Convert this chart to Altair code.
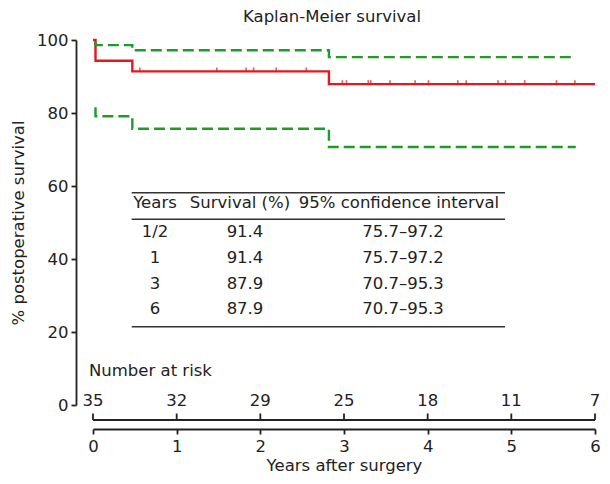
import altair as alt
import pandas as pd

# ---------------- data ----------------
km_times = [0.0, 0.03, 0.47, 2.82, 6.0]
km_surv = [100.0, 94.3, 91.4, 87.9, 87.9]

ci_times = [0.03, 0.03, 0.47, 2.82, 5.77]
ci_upper = [99.6, 98.6, 97.2, 95.3, 95.3]
ci_lower = [81.6, 79.1, 75.7, 70.7, 70.7]

censor_times = [0.56, 1.48, 1.83, 1.92, 2.19, 2.55, 2.98, 3.03, 3.29, 3.32,
                3.55, 3.85, 4.01, 4.36, 4.46, 4.84, 4.93, 5.16, 5.54, 5.76]

risk_years = [0, 1, 2, 3, 4, 5, 6]
risk_counts = [35, 32, 29, 25, 18, 11, 7]

table_headers = ["Years", "Survival (%)", "95% confidence interval"]
table_years = ["1/2", "1", "3", "6"]
table_surv = ["91.4", "91.4", "87.9", "87.9"]
table_ci = ["75.7\u201397.2", "75.7\u201397.2", "70.7\u201395.3", "70.7\u201395.3"]

# ---------------- styling ----------------
FONT = "DejaVu Sans"
FS = 16.5
RED = "#e8161e"
GREEN = "#1a9e28"
INK = "#222222"


def surv_at(t):
    s = km_surv[0]
    for tt, ss in zip(km_times, km_surv):
        if tt <= t:
            s = ss
    return s


km_df = pd.DataFrame({"t": km_times, "s": km_surv})
ci_df = pd.DataFrame({
    "t": ci_times + ci_times,
    "s": ci_upper + ci_lower,
    "band": ["upper"] * len(ci_times) + ["lower"] * len(ci_times),
})
cens_df = pd.DataFrame({"t": censor_times, "s": [surv_at(t) for t in censor_times]})
risk_df = pd.DataFrame({"t": risk_years, "n": risk_counts})
table_df = pd.DataFrame({"years": table_years, "surv": table_surv, "ci": table_ci,
                         "row": list(range(len(table_years)))})
one = pd.DataFrame({"t": [0]})

x_scale = alt.Scale(domain=[0, 6], nice=False, zero=False)
y_scale = alt.Scale(domain=[0, 100], nice=False)

x_axis = alt.Axis(values=risk_years, format="d", title="Years after surgery",
                  offset=24, tickSize=5, labelPadding=4, titlePadding=3, labelFlush=False)
y_axis = alt.Axis(values=[0, 20, 40, 60, 80, 100], format="d", title="% postoperative survival",
                  offset=17, tickSize=5, labelPadding=3, titlePadding=10)

X = alt.X("t:Q", scale=x_scale, axis=x_axis)
Y = alt.Y("s:Q", scale=y_scale, axis=y_axis)

km_line = alt.Chart(km_df).mark_line(interpolate="step-after", color=RED, strokeWidth=2.4).encode(
    x=X, y=Y)

ci_lines = alt.Chart(ci_df).mark_line(interpolate="step-after", color=GREEN, strokeWidth=2.4,
                                      strokeDash=[11, 5]).encode(
    x=X, y=Y, detail="band:N")

censor = alt.Chart(cens_df).mark_tick(orient="vertical", color=RED, size=4, thickness=1.6,
                                      yOffset=-2).encode(x=X, y=Y)

# number at risk
risk_line = alt.Chart(one).mark_rule(color=INK, strokeWidth=1.8).encode(
    x=alt.datum(risk_years[0], scale=x_scale, axis=x_axis), x2=alt.datum(risk_years[-1]),
    y=alt.value(380))
risk_ticks = alt.Chart(risk_df).mark_rule(color=INK, strokeWidth=1.8).encode(
    x=X, y=alt.value(373.5), y2=alt.value(380))
risk_text = alt.Chart(risk_df).mark_text(font=FONT, fontSize=FS, color=INK, baseline="middle").encode(
    x=X, y=alt.value(361), text="n:Q")
risk_title = alt.Chart(one).mark_text(font=FONT, fontSize=FS, color=INK, align="left",
                                      baseline="middle", dx=-4).encode(
    x=X, y=alt.value(331), text=alt.value("Number at risk"))

# table
ROW0, STEP = 192.3, 25.67
table_layers = []
for hx, h in zip([62, 147, 306], table_headers):
    table_layers.append(alt.Chart(one).mark_text(font=FONT, fontSize=FS, color=INK, baseline="middle").encode(
        x=alt.value(hx), y=alt.value(163.3), text=alt.value(h)))
for cx, field in zip([62, 152, 310], ["years", "surv", "ci"]):
    table_layers.append(
        alt.Chart(table_df).transform_calculate(py=f"{ROW0} + datum.row * {STEP}")
        .mark_text(font=FONT, fontSize=FS, color=INK, baseline="middle")
        .encode(x=alt.value(cx), y=alt.Y("py:Q", scale=None), text=f"{field}:N"))
for ry in [152.7, 179.3, 286.7]:
    table_layers.append(alt.Chart(one).mark_rule(color="#333333", strokeWidth=1.5).encode(
        x=alt.value(38.7), x2=alt.value(412), y=alt.value(ry)))

chart = alt.layer(
    km_line, ci_lines, censor,
    risk_line, risk_ticks, risk_text, risk_title,
    *table_layers,
).properties(
    width=502, height=365,
    padding={"left": 85, "top": 32, "right": 7, "bottom": 71},
    autosize=alt.AutoSizeParams(type="none"),
    title=alt.TitleParams("Kaplan-Meier survival", font=FONT, fontSize=FS, fontWeight="normal",
                          color=INK, offset=7, dx=-12),
).configure_view(stroke=None).configure_axis(
    labelFont=FONT, labelFontSize=FS, labelColor=INK,
    titleFont=FONT, titleFontSize=FS, titleFontWeight="normal", titleColor=INK,
    domainColor=INK, domainWidth=1.8, tickColor=INK, tickWidth=1.8, grid=False,
)

chart.save("out.html", embed_options={"renderer": "svg", "actions": False})
